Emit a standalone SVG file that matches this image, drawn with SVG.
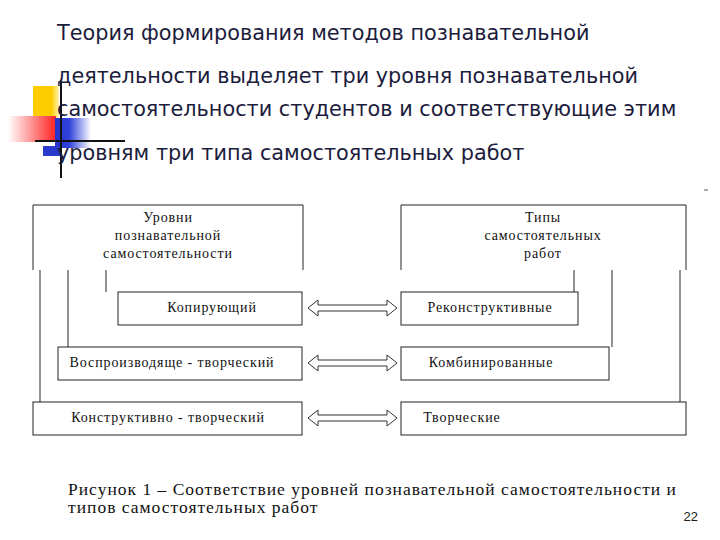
<svg xmlns="http://www.w3.org/2000/svg" width="720" height="540" viewBox="0 0 720 540">
<defs>
<linearGradient id="rg" x1="0" x2="1"><stop offset="0" stop-color="#fff"/><stop offset="1" stop-color="#f22"/></linearGradient>
<linearGradient id="bg" x1="0" x2="1"><stop offset="0" stop-color="#2233cc"/><stop offset="0.4" stop-color="#3344dd"/><stop offset="1" stop-color="#fff"/></linearGradient>
<linearGradient id="yg" x1="0" x2="1"><stop offset="0" stop-color="#ffcc00"/><stop offset="0.7" stop-color="#ffcc00"/><stop offset="1" stop-color="#fff3b0"/></linearGradient>
</defs>
<style>
.t{font-family:"DejaVu Sans","Noto Sans",sans-serif;font-size:20.8px;fill:#1c1c3c}
.s{font-family:"Liberation Serif",serif;font-size:14px;letter-spacing:0.9px;fill:#111;text-anchor:middle}
.c{font-family:"Liberation Serif",serif;font-size:17.5px;letter-spacing:1px;fill:#111}
.b{fill:#fff;stroke:#222;stroke-width:1}
.l{stroke:#222;stroke-width:1;fill:none}
.a{fill:#fff;stroke:#333;stroke-width:1}
</style>
<rect width="720" height="540" fill="#fff"/>
<g id="deco">
<rect x="33" y="86" width="26" height="32" fill="url(#yg)"/>
<rect x="8" y="116" width="48" height="26" fill="url(#rg)"/>
<rect x="55" y="118" width="36" height="30" fill="url(#bg)"/>
<rect x="43" y="146" width="18" height="10" fill="#2a3acc"/>
<line x1="61" y1="80" x2="61" y2="178" stroke="#111" stroke-width="2"/>
<line x1="35" y1="141" x2="125" y2="141" stroke="#111" stroke-width="2"/>
</g>
<g id="title">
<text class="t" x="57" y="40">Теория формирования методов познавательной</text>
<text class="t" x="57" y="83">деятельности выделяет три уровня  познавательной</text>
<text class="t" x="57" y="116">самостоятельности студентов  и соответствующие этим</text>
<text class="t" x="57" y="160">уровням три типа самостоятельных работ</text>
</g>
<g id="connectors">
<path class="l" d="M33 270V205H303V270M401 270V205H686V270"/>
<path class="l" d="M40 270V402M68 270V347M106 270V292M574 270V292M612 270V347M680 270V402"/>
<g id="arrows">
<path class="a" d="M308 308L318 300V305H387V300L397 308L387 316V311H318V316Z"/>
<path class="a" d="M308 363L318 355V360H387V355L397 363L387 371V366H318V371Z"/>
<path class="a" d="M308 418L318 410V415H387V410L397 418L387 426V421H318V426Z"/>
</g>
</g>
<g id="hdrL"><text class="s" x="168" y="222">Уровни</text><text class="s" x="168" y="240">познавательной</text><text class="s" x="168" y="258">самостоятельности</text></g>
<g id="hdrR"><text class="s" x="543" y="222">Типы</text><text class="s" x="543" y="240">самостоятельных</text><text class="s" x="543" y="258">работ</text></g>
<g id="n1"><rect class="b" x="118" y="292" width="184" height="33"/><text class="s" x="212" y="312">Копирующий</text></g>
<g id="n2"><rect class="b" x="58" y="347" width="244" height="33"/><text class="s" x="172" y="367">Воспроизводяще - творческий</text></g>
<g id="n3"><rect class="b" x="33" y="402" width="269" height="33"/><text class="s" x="168" y="422">Конструктивно - творческий</text></g>
<g id="n4"><rect class="b" x="401" y="292" width="177" height="33"/><text class="s" x="490" y="312">Реконструктивные</text></g>
<g id="n5"><rect class="b" x="401" y="347" width="208" height="33"/><text class="s" x="491" y="367">Комбинированные</text></g>
<g id="n6"><rect class="b" x="401" y="402" width="285" height="33"/><text class="s" x="462" y="422">Творческие</text></g>
<g id="caption">
<text class="c" x="68" y="495">Рисунок 1 – Соответствие уровней познавательной самостоятельности и</text>
<text class="c" x="68" y="513">типов самостоятельных работ</text>
</g>
<text x="698" y="521" font-family="Liberation Sans,sans-serif" font-size="13" fill="#222" text-anchor="end">22</text>
<line x1="704" y1="190" x2="708" y2="190" stroke="#555"/>
</svg>
